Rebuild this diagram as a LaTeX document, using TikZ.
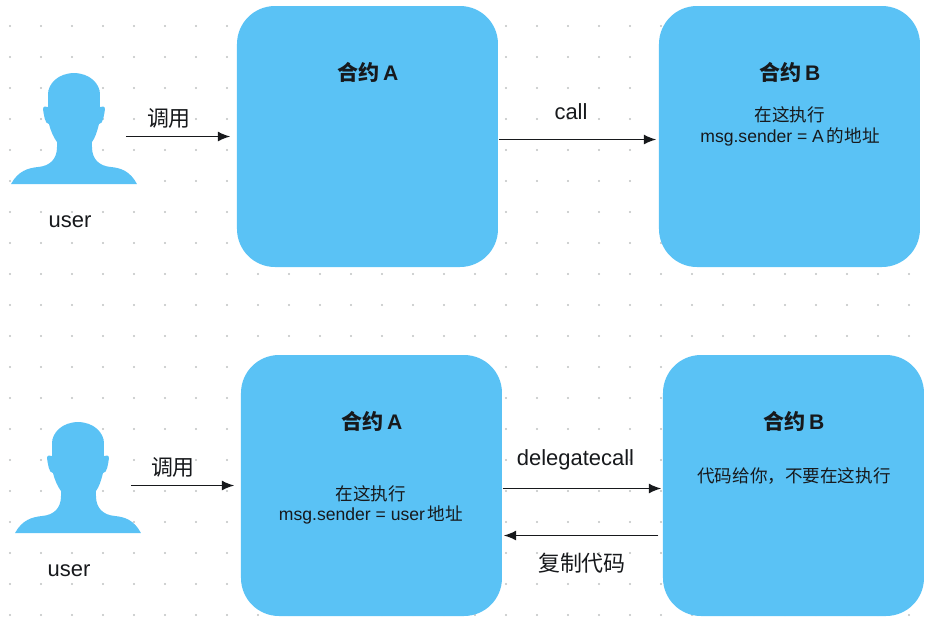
\documentclass[tikz,border=0pt]{standalone}
\usepackage{fontspec}
\setmainfont{Liberation Sans}
\newfontfamily\cjk{Noto Sans CJK SC}
\usepackage{xcolor}
\usetikzlibrary{arrows.meta,positioning,calc}
\definecolor{boxblue}{HTML}{5AC2F5}
\definecolor{ink}{HTML}{17191C}
\definecolor{dotgray}{HTML}{BFC1C2}
\begin{document}
\begin{tikzpicture}[every node/.style={font=\fontsize{6.25}{7.5}\selectfont,text=ink,inner sep=0pt},
  box/.style={fill=boxblue,rounded corners=.38cm,minimum width=2.61cm,minimum height=2.61cm},
  title/.style={font=\fontsize{6}{7.5}\selectfont\bfseries},
  small/.style={font=\fontsize{5}{5.9}\selectfont,align=center},
  link/.style={-{Latex[length=1.25mm,width=1mm]},line width=.42pt,draw=ink},
  person/.pic={\fill[boxblue,x=.01cm,y=.01cm] (-63,0) .. controls (-56,13) and (-46,16) .. (-36,17) .. controls (-24,18) and (-17,25) .. (-17,37) -- (-17,42) .. controls (-20,46) and (-23,52) .. (-25,60) .. controls (-29,60) and (-30,68) .. (-31,75) .. controls (-31,78) and (-28,78) .. (-26,77) -- (-26,90) .. controls (-26,100) and (-16,111) .. (0,111) .. controls (16,111) and (26,100) .. (26,90) -- (26,77) .. controls (28,78) and (31,78) .. (31,75) .. controls (30,68) and (29,60) .. (25,60) .. controls (23,52) and (21,46) .. (18,42) -- (18,37) .. controls (18,25) and (25,18) .. (37,17) .. controls (47,16) and (56,13) .. (63,0) -- cycle;}]
\useasboundingbox (0,0) rectangle (9.31,-6.23);
\foreach \i in {0,...,29} \foreach \j in {0,...,19} \fill[dotgray] (.10+.31*\i,-.26-.31*\j) circle (.011);

\node[box] (a1) at (3.675,-1.365) {};
\node[box] (b1) at (7.895,-1.365) {};
\node[box] (a2) at (3.715,-4.855) {};
\node[box] (b2) at (7.935,-4.855) {};
\pic at (.74,-1.84) {person};
\pic at (.78,-5.33) {person};

\node (user1) at (.70,-2.22) {user};
\node (user2) at (.69,-5.71) {user};
\coordinate (from1) at (1.26,-1.365);
\coordinate (from2) at (1.31,-4.855);

\node (t1) at (3.68,-.72) [title] {{\cjk 合约}\,A};
\node (t2) at (7.90,-.72) [title] {{\cjk 合约}\,B};
\node (t3) at (3.72,-4.21) [title] {{\cjk 合约}\,A};
\node (t4) at (7.94,-4.21) [title] {{\cjk 合约}\,B};
\node (s1) at (7.90,-1.265) [small] {{\cjk 在这执行}\\msg.sender = A\,{\cjk 的地址}};
\node (s2) at (3.71,-5.05) [small] {{\cjk 在这执行}\\msg.sender = user\,{\cjk 地址}};
\node (s3) at (7.94,-4.76) [small] {\cjk 代码给你，不要在这执行};

\node (l1) at (1.69,-1.18) {\cjk 调用};
\node (l2) at (5.71,-1.12) {call};
\node (l3) at (1.73,-4.67) {\cjk 调用};
\node (l4) at (5.755,-4.60) {delegatecall};
\node (l5) at (5.82,-5.63) {\cjk 复制代码};

\draw[link,shorten >=.06cm] (from1) -- (a1.west);
\draw[link,shorten >=.02cm] ([yshift=-.03cm]a1.east) -- ([yshift=-.03cm]b1.west);
\draw[link,shorten >=.06cm] (from2) -- (a2.west);
\draw[link,shorten >=.01cm] ([yshift=-.03cm]a2.east) -- ([yshift=-.03cm]b2.west);
\draw[link,shorten <=.04cm,shorten >=.01cm] ([yshift=-.5cm]b2.west) -- ([yshift=-.5cm]a2.east);
\end{tikzpicture}
\end{document}
